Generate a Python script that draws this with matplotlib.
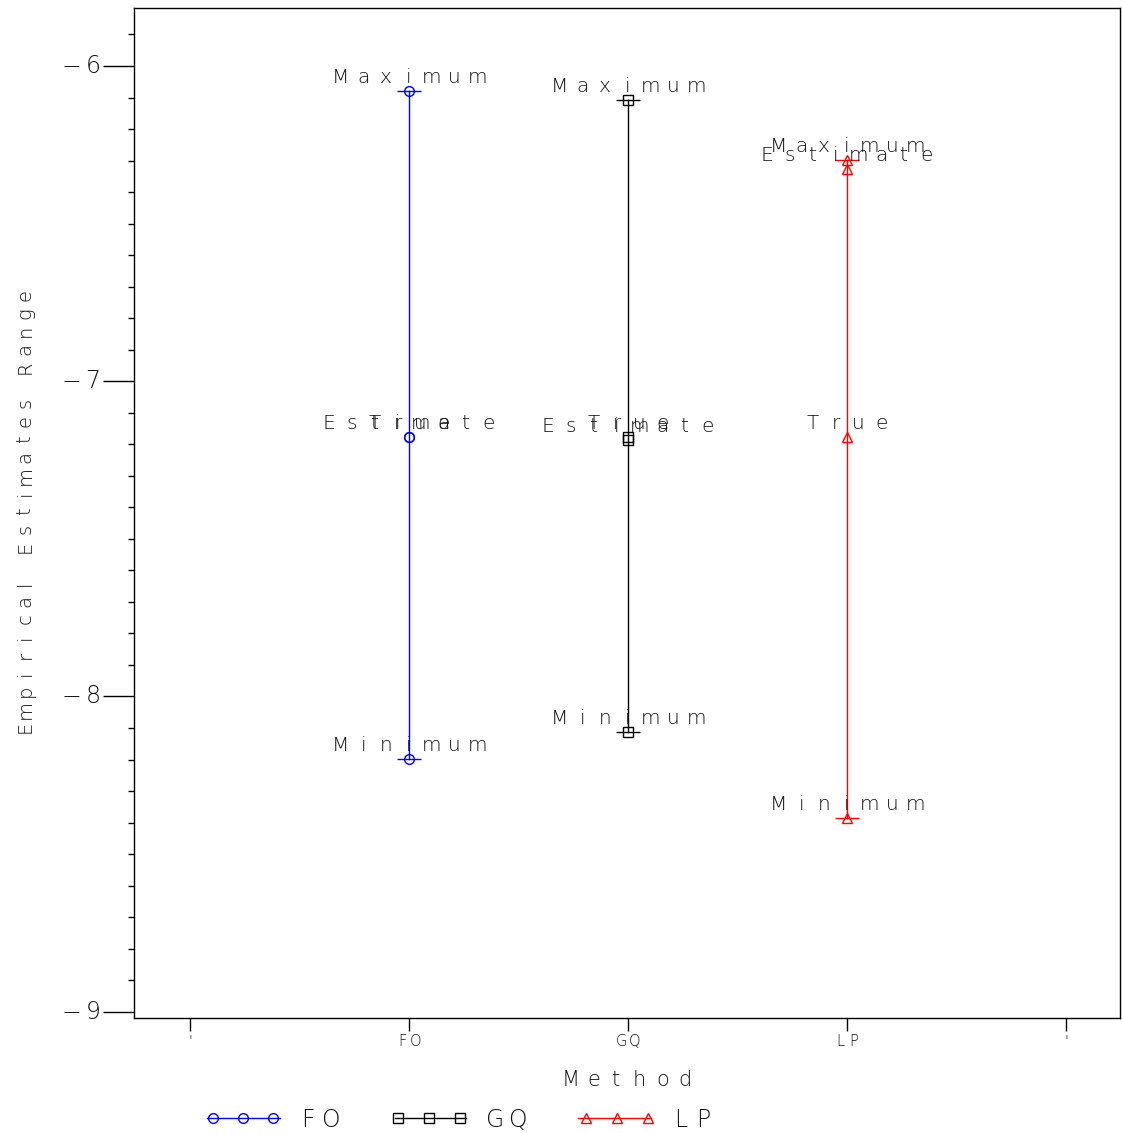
import matplotlib
matplotlib.use("Agg")
import matplotlib.pyplot as plt
from matplotlib.transforms import offset_copy
from matplotlib.lines import Line2D
import numpy as np

# Summary of empirical estimates for each estimation method
methods = ["FO", "GQ", "LP"]
minimum = [-8.197, -8.114, -8.387]
maximum = [-6.079, -6.108, -6.298]
estimate = [-7.178, -7.188, -6.327]
true_val = [-7.178, -7.178, -7.178]

x_ticks = [0, 1, 2, 3, 4]
x_tick_labels = ["'", "FO", "GQ", "LP", "'"]
y_ticks = [-9, -8, -7, -6]

colors = ["#0000ff", "#000000", "#ff0000"]
markers = ["o", "s", "^"]
FONT = "DejaVu Sans"
WEIGHT = "light"
INK = "#111111"

fig = plt.figure(figsize=(11.22, 11.33), dpi=100)
ax = fig.add_axes([134 / 1122, 1 - 1018 / 1133, (1120 - 134) / 1122, (1018 - 8) / 1133])
ax.set_xlim(-0.256, 4.247)
ax.set_ylim(-9.02, -5.816)


def spaced(x, y, s, pitch, size, transform, color=INK, dx=0.0, dy=0.0, rotation=0):
    """Draw a string one glyph at a time on an even pitch (pixels)."""
    n = len(s)
    for i, ch in enumerate(s):
        if ch == " ":
            continue
        off = (i - (n - 1) / 2) * pitch
        if rotation == 90:
            tr = offset_copy(transform, fig=fig, x=dx, y=off + dy, units="dots")
        else:
            tr = offset_copy(transform, fig=fig, x=off + dx, y=dy, units="dots")
        fig.text(x, y, ch, transform=tr, ha="center", va="center", fontsize=size,
                 color=color, family=FONT, fontweight=WEIGHT, rotation=rotation)


for i, m in enumerate(methods):
    xi = x_ticks[i + 1]
    c = colors[i]
    ax.plot([xi, xi], [minimum[i], maximum[i]], color=c, lw=1.0, zorder=2)
    # caps at the extremes
    ax.plot([xi, xi], [minimum[i], maximum[i]], ls="none", marker="_", ms=17,
            mew=1.0, color=c, zorder=3)
    pts = [minimum[i], maximum[i], estimate[i], true_val[i]]
    ax.plot([xi] * 4, pts, ls="none", marker=markers[i], ms=7, mfc="none",
            mec=c, mew=1.0, zorder=4)
    for val, lab in [(maximum[i], "Maximum"), (estimate[i], "Estimate"),
                     (true_val[i], "True"), (minimum[i], "Minimum")]:
        spaced(xi, val, lab, 22.8, 14.5, ax.transData, dy=13.5)

# axes styling
for sp in ax.spines.values():
    sp.set_linewidth(1.0)
ax.set_xticks(x_ticks)
ax.set_xticklabels([])
ax.tick_params(axis="x", direction="out", length=9, width=1.0)
ax.set_yticks(y_ticks)
ax.set_yticklabels([])
ax.set_yticks(np.round(np.arange(-9, -5.8, 0.1), 1), minor=True)
ax.tick_params(axis="y", which="major", direction="out", length=22, width=1.0)
ax.tick_params(axis="y", which="minor", direction="out", length=4, width=1.0)

# x tick labels
blend_x = ax.get_xaxis_transform()
for xt, lab in zip(x_ticks, x_tick_labels):
    if lab == "'":
        spaced(xt, 0, lab, 10, 10, blend_x, dy=-22)
    else:
        spaced(xt, 0, lab, 14, 10.5, blend_x, dy=-24)

# y tick labels, spaced minus sign and digit
blend_y = ax.get_yaxis_transform()
for yt in y_ticks:
    spaced(0, yt, "\u2212" + str(abs(yt)), 22, 17, blend_y, dx=-52)

# axis titles
spaced(628 / 1122, 1 - 1080 / 1133, "Method", 23, 15, fig.transFigure)
spaced(25 / 1122, 1 - 511 / 1133, "Empirical Estimates Range", 18.0, 14, fig.transFigure,
       rotation=90)

# legend row
leg_y = 1 - 1118 / 1133
for i, m in enumerate(methods):
    x0, x1 = [207, 395, 578][i], [280, 466, 651][i]
    mx = [[213, 243, 273], [398, 429, 460], [586, 617, 648]][i]
    fig.add_artist(Line2D(np.array([x0, x1]) / 1122, [leg_y, leg_y], color=colors[i],
                          lw=1.0, transform=fig.transFigure))
    fig.add_artist(Line2D(np.array(mx) / 1122, [leg_y] * 3, ls="none", marker=markers[i],
                          ms=7, mfc="none", mec=colors[i], mew=1.0,
                          transform=fig.transFigure))
    tx = [319, 506, 692][i] / 1122
    spaced(tx, leg_y, m, 22, 17, fig.transFigure, dy=-2)

fig.savefig("out.png", dpi=100, facecolor="white")
